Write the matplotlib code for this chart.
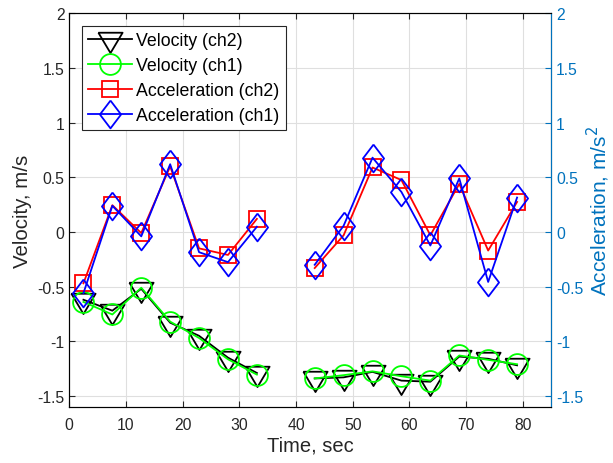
import numpy as np
import matplotlib
matplotlib.use('Agg')
import matplotlib.pyplot as plt

plt.rcParams['font.family'] = ['Liberation Sans', 'DejaVu Sans']

# Data (sample at 38.2 s is missing -> gap)
time = [2.5, 7.6, 12.7, 17.8, 22.9, 28.0, 33.1, 38.2,
        43.3, 48.4, 53.5, 58.6, 63.7, 68.8, 73.9, 79.0]
vel_ch2 = [-0.62, -0.72, -0.52, -0.83, -0.95, -1.15, -1.29, np.nan,
           -1.34, -1.33, -1.28, -1.36, -1.37, -1.14, -1.16, -1.22]
vel_ch1 = [-0.64, -0.755, -0.51, -0.82, -0.97, -1.165, -1.305, np.nan,
           -1.34, -1.31, -1.275, -1.32, -1.36, -1.13, -1.17, -1.21]
acc_ch2 = [-0.47, 0.245, -0.01, 0.60, -0.15, -0.21, 0.12, np.nan,
           -0.33, -0.03, 0.59, 0.475, -0.03, 0.44, -0.17, 0.275]
acc_ch1 = [-0.56, 0.24, -0.04, 0.62, -0.185, -0.276, 0.048, np.nan,
           -0.30, 0.057, 0.68, 0.366, -0.124, 0.49, -0.457, 0.315]

xticks = [0, 10, 20, 30, 40, 50, 60, 70, 80]
yticks = [-1.5, -1, -0.5, 0, 0.5, 1, 1.5, 2]
ytick_labels = ['-1.5', '-1', '-0.5', '0', '0.5', '1', '1.5', '2']

# MATLAB-like markers: triangle centred on its centroid, tall diamond
tri = [(-1, 0.56), (1, 0.56), (0, -1.12), (-1, 0.56)]
dia = [(0, 1), (0.76, 0), (0, -1), (-0.76, 0), (0, 1)]

axcol = (0.15, 0.15, 0.15)
rcol = (0, 0.447, 0.741)

fig = plt.figure(figsize=(6.13, 4.64), dpi=100)
ax = fig.add_axes([0.113, 0.121, 0.786, 0.848])
ax2 = ax.twinx()

lw = 1.3
h1, = ax.plot(time, vel_ch2, color='k', marker=tri, ms=19.5, mfc='none', mew=lw, lw=lw)
h2, = ax.plot(time, vel_ch1, color=(0, 1, 0), marker='o', ms=15, mfc='none', mew=lw, lw=lw)
h3, = ax2.plot(time, acc_ch2, color='r', marker='s', ms=11, mfc='none', mew=lw, lw=lw)
h4, = ax2.plot(time, acc_ch1, color='b', marker=dia, ms=20, mfc='none', mew=lw, lw=lw)

for a in (ax, ax2):
    a.set_xlim(0, 85)
    a.set_ylim(-1.6, 2)
    a.set_yticks(yticks)
    a.set_yticklabels(ytick_labels)
    a.tick_params(direction='in', length=4, width=0.8, labelsize=11.3)

ax.set_xticks(xticks)
ax.tick_params(axis='both', colors=axcol, top=True)
ax.tick_params(axis='x', pad=7)
ax.grid(True, color='#dfdfdf', lw=0.8)
ax.set_axisbelow(True)
for s in ('left', 'bottom', 'top'):
    ax.spines[s].set_color(axcol)
ax2.spines['right'].set_color(rcol)
ax2.tick_params(axis='y', colors=rcol)

ax.set_xlabel('Time, sec', fontsize=14.5, color=axcol, labelpad=3)
ax.set_ylabel('Velocity, m/s', fontsize=14.8, color=axcol, labelpad=4)
ax2.set_ylabel('Acceleration, m/s$^2$', fontsize=15, color=rcol, labelpad=1)

leg = ax2.legend([h1, h2, h3, h4],
                 ['Velocity (ch2)', 'Velocity (ch1)', 'Acceleration (ch2)', 'Acceleration (ch1)'],
                 loc='upper left', bbox_to_anchor=(0.026, 0.968), borderaxespad=0,
                 fontsize=12.8, handlelength=2.5, handletextpad=0.22, labelspacing=0.45,
                 fancybox=False, framealpha=1, edgecolor=axcol, borderpad=0.35)
leg.get_frame().set_linewidth(0.8)

fig.savefig('out.png', dpi=100)
